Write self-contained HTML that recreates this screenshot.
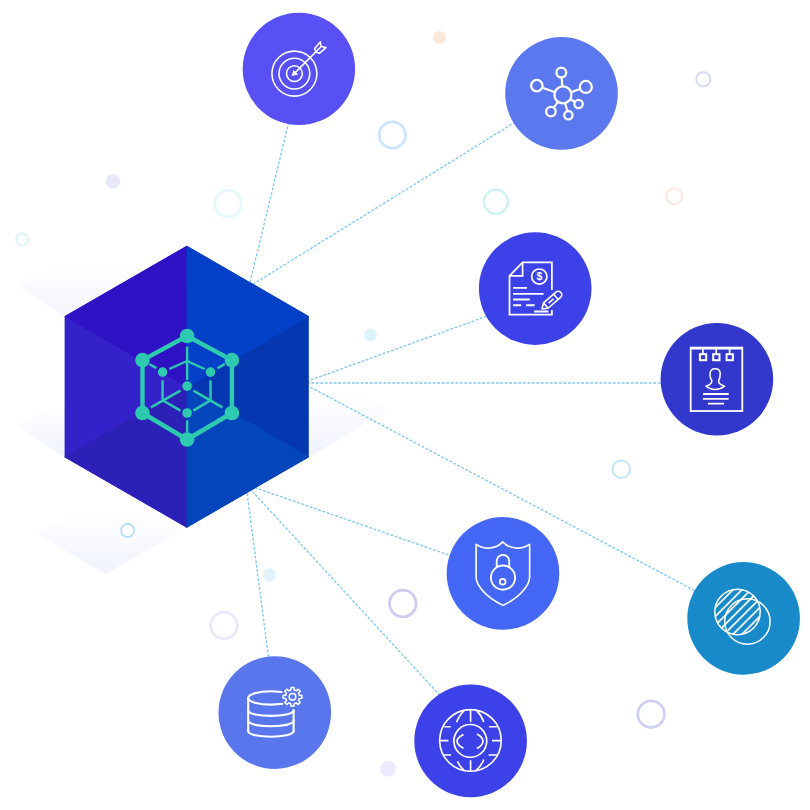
<!DOCTYPE html>
<html lang="en">
<head>
<meta charset="utf-8">
<title>Data hub illustration</title>
<style>
html,body{margin:0;padding:0;background:#fff;}
body{width:810px;height:810px;overflow:hidden;font-family:"Liberation Sans",sans-serif;}
svg{display:block}
</style>
</head>
<body>
<svg width="810" height="810" viewBox="0 0 810 810">
<defs>
  <linearGradient id="shA" gradientUnits="userSpaceOnUse" x1="0" y1="318" x2="0" y2="266">
    <stop offset="0" stop-color="#dfe5fa" stop-opacity=".4"/><stop offset="1" stop-color="#dfe5fa" stop-opacity="0"/>
  </linearGradient>
  <linearGradient id="shB" gradientUnits="userSpaceOnUse" x1="0" y1="459" x2="0" y2="405">
    <stop offset="0" stop-color="#dfe5fa" stop-opacity=".5"/><stop offset="1" stop-color="#dfe5fa" stop-opacity="0"/>
  </linearGradient>
  <linearGradient id="shC" gradientUnits="userSpaceOnUse" x1="0" y1="576" x2="0" y2="515">
    <stop offset="0" stop-color="#dfe5fa" stop-opacity=".5"/><stop offset="1" stop-color="#dfe5fa" stop-opacity="0"/>
  </linearGradient>
  <linearGradient id="shD" gradientUnits="userSpaceOnUse" x1="0" y1="460" x2="0" y2="394">
    <stop offset="0" stop-color="#dfe5fa" stop-opacity=".5"/><stop offset="1" stop-color="#dfe5fa" stop-opacity="0"/>
  </linearGradient>
  <pattern id="hatch" patternUnits="userSpaceOnUse" width="6.3" height="6.3" patternTransform="translate(737.5 611.95) rotate(-45) translate(0 -0.82)">
    <rect x="0" y="0" width="6.3" height="1.65" fill="#fff"/>
  </pattern>
  <clipPath id="clipA"><circle cx="737.5" cy="611.95" r="22.4"/></clipPath>
</defs>

<!-- faint floor shadows -->
<polygon points="18,286 65,316.5 186,246.5 139,216" fill="url(#shA)"/>
<polygon points="17,425.5 65,457.5 186,387.5 138,355.5" fill="url(#shB)"/>
<polygon points="37,534 106,574 308.8,457 240,417" fill="url(#shC)"/>
<polygon points="389,410.6 308.8,457 186,386 266,340" fill="url(#shD)"/>

<!-- decorative dots -->
<g fill="none" stroke-width="2.8">
  <circle cx="228" cy="203.6" r="13.2" stroke="#e5f9fc"/>
  <circle cx="22.1" cy="239.2" r="5.9" stroke="#d9f3f6" stroke-width="1.7"/>
  <circle cx="392.4" cy="135" r="13.2" stroke="#cbe6fb"/>
  <circle cx="703.3" cy="79.3" r="7.1" stroke="#d6d8f8" stroke-width="1.9"/>
  <circle cx="495.9" cy="201.7" r="12" stroke="#d4f3f0"/>
  <circle cx="674.4" cy="196.3" r="7.9" stroke="#fde5db" stroke-width="1.9"/>
  <circle cx="127.6" cy="530.4" r="6.6" stroke="#b4dcf5" stroke-width="1.7"/>
  <circle cx="224" cy="625.4" r="13.3" stroke="#e9e8fb"/>
  <circle cx="402.8" cy="603.5" r="13.3" stroke="#cdccf0"/>
  <circle cx="621.3" cy="469.3" r="8.8" stroke="#c5e5f9" stroke-width="2"/>
  <circle cx="651.1" cy="714.2" r="13.3" stroke="#d0d0f4"/>
</g>
<circle cx="113" cy="181.4" r="7.3" fill="#e7e8f9"/>
<circle cx="370.5" cy="335" r="6.5" fill="#dcf5fa"/>
<circle cx="439.6" cy="37.5" r="6.6" fill="#fce9dc"/>
<circle cx="269.5" cy="575" r="6.7" fill="#e3f1fc"/>
<circle cx="388" cy="768.8" r="8" fill="#eceafc"/>

<!-- dashed connectors -->
<g fill="none" stroke="#7cc6f4" stroke-width="1.3" stroke-dasharray="2.8 1.7">
  <line x1="249" y1="286.7" x2="301.6" y2="68.9"/>
  <line x1="249" y1="286.7" x2="561.5" y2="93.5"/>
  <line x1="302.3" y1="383" x2="535.2" y2="298.7"/>
  <line x1="302.3" y1="383" x2="716.9" y2="383"/>
  <line x1="302.3" y1="383" x2="743.6" y2="616.5"/>
  <line x1="246" y1="484.5" x2="503" y2="573.9"/>
  <line x1="246" y1="484.5" x2="275.7" y2="712.6"/>
  <line x1="246" y1="484.5" x2="460" y2="717.2"/>
</g>

<!-- hexagon cube -->
<g>
  <polygon points="187.2,245.7 64.6,316.2 64.6,457.2 187.2,527.7" fill="#3521c9"/>
  <polygon points="186.7,245.7 308.8,316.2 308.8,457.2 186.7,527.7" fill="#0437b0"/>
  <polygon points="187.2,387.3 186.7,245.7 64.6,316.2 64.6,316.8" fill="#2e12c4"/>
  
  <polygon points="187.2,386.1 64.6,456.6 64.6,457.2 186.7,527.7 187.2,527.7" fill="#2c21b6"/>
  <polygon points="186.7,387.3 186.7,245.7 308.8,316.2 308.8,316.8" fill="#0340c8"/>
  
  <polygon points="186.7,386.1 308.8,456.6 308.8,457.2 186.7,527.7" fill="#0346bb"/>
</g>

<!-- cube icon -->
<g stroke="#2ecab0" fill="none" stroke-linecap="butt">
  <polygon points="187.1,336 231.9,360.1 231.9,413 187.1,439.5 142.5,413 142.5,360.1" stroke-width="4.4" stroke-linejoin="round"/>
  <g stroke-width="2.4">
    <line x1="187.1" y1="346.5" x2="187.1" y2="380"/>
    <line x1="187.1" y1="361" x2="169.3" y2="369"/>
    <line x1="187.1" y1="361" x2="204.6" y2="369"/>
    <line x1="149.3" y1="364.1" x2="156.5" y2="368.1"/>
    <line x1="224.7" y1="364.1" x2="217.5" y2="368.1"/>
    <line x1="162.6" y1="380.2" x2="162.6" y2="400.5"/>
    <line x1="210.5" y1="380.2" x2="210.5" y2="400.5"/>
    <line x1="180.5" y1="390.6" x2="150.9" y2="407.4"/>
    <line x1="193.4" y1="390.6" x2="222.3" y2="407.4"/>
    <line x1="162.6" y1="400.2" x2="180.5" y2="410.6"/>
    <line x1="210.5" y1="400.2" x2="193.4" y2="410.6"/>
    <line x1="187.1" y1="420.3" x2="187.1" y2="432.3"/>
  </g>
</g>
<g fill="#2ecab0">
  <circle cx="187.1" cy="336" r="7.3"/><circle cx="231.9" cy="360.1" r="7.3"/><circle cx="231.9" cy="413" r="7.3"/>
  <circle cx="187.1" cy="439.5" r="7.3"/><circle cx="142.5" cy="413" r="7.3"/><circle cx="142.5" cy="360.1" r="7.3"/>
  <circle cx="187.1" cy="386.1" r="4.8"/><circle cx="162.6" cy="372.1" r="4.8"/><circle cx="210.5" cy="372.1" r="4.8"/><circle cx="187.1" cy="413" r="4.8"/>
</g>

<!-- big circles -->
<circle cx="298.9" cy="68.9" r="56.2" fill="#5850f4"/>
<circle cx="561.5" cy="93.4" r="56.3" fill="#5b78ee"/>
<circle cx="535.2" cy="288.6" r="56.3" fill="#3d42e8"/>
<circle cx="716.9" cy="379.3" r="56.3" fill="#3338cc"/>
<circle cx="503" cy="573.4" r="56.3" fill="#4468f5"/>
<circle cx="743.6" cy="618.4" r="56.3" fill="#188aca"/>
<circle cx="274.8" cy="712.6" r="56.3" fill="#5976ec"/>
<circle cx="470.6" cy="740.9" r="56.3" fill="#3d42e8"/>

<!-- target icon -->
<g fill="none" stroke="#fff" stroke-width="1.55" stroke-linejoin="round">
  <circle cx="294.4" cy="73.6" r="22.5"/>
  <circle cx="294.4" cy="73.6" r="15.4"/>
  <circle cx="294.4" cy="73.6" r="7.9"/>
  <line x1="294.4" y1="73.4" x2="321" y2="46.8"/>
  <path d="M316 52 L314.7 48.6 L320.3 41.9 L321.2 46.6 L325.9 47.6 L319.4 53.3 Z"/>
</g>
<polygon points="291.6,76 293.4,69.9 298.2,74.4" fill="#fff"/>

<!-- network icon -->
<g fill="none" stroke="#fff" stroke-width="2.1">
  <line x1="562.95" y1="94.9" x2="561.3" y2="72.6"/>
  <line x1="562.95" y1="94.9" x2="536.8" y2="85.65"/>
  <line x1="562.95" y1="94.9" x2="585.8" y2="86.95"/>
  <line x1="562.95" y1="94.9" x2="578.55" y2="104"/>
  <line x1="562.95" y1="94.9" x2="568.4" y2="115.2"/>
  <line x1="562.95" y1="94.9" x2="550.9" y2="111.6"/>
</g>
<g fill="#5b78ee" stroke="#fff" stroke-width="2.3">
  <circle cx="562.95" cy="94.9" r="8.5"/>
  <circle cx="561.3" cy="72.6" r="4.9"/>
  <circle cx="536.8" cy="85.65" r="5.7"/>
  <circle cx="585.8" cy="86.95" r="6"/>
  <circle cx="578.55" cy="104" r="4.15"/>
  <circle cx="568.4" cy="115.2" r="4.2"/>
  <circle cx="550.9" cy="111.6" r="4.8"/>
</g>

<!-- document icon -->
<g fill="none" stroke="#fff" stroke-width="1.7" stroke-linejoin="miter">
  <path d="M551.9 290 V262.4 H522.6 L509.5 275.8 V314.7 H551.9 V309.9"/>
  <path d="M522.6 262.4 V275.8 H509.5"/>
  <circle cx="539.3" cy="276.6" r="7.6"/>
  <path stroke-width="1.9" d="M513 287.9 H527 M513 293.9 H543.6 M513 299.5 H529.8 M513 305.3 H521.2 M526.1 305.3 H534.6 M534.1 311.5 H548.4"/>
  <g transform="translate(541.9 309) rotate(-41)" stroke-width="1.6" stroke-linejoin="round">
    <path d="M0 0 L5.2 -3.5 H21.6 A3.5 3.5 0 0 1 21.6 3.5 H5.2 Z" fill="#3d42e8"/>
    <path d="M5.2 -3.5 V3.5 M18.6 -3.5 V3.5 M8.8 0 H15.4"/>
  </g>
</g>
<text x="539.3" y="280.2" font-family="'Liberation Sans',sans-serif" font-weight="700" font-size="10.5" fill="#fff" text-anchor="middle">$</text>

<!-- notepad icon -->
<g fill="none" stroke="#fff" stroke-width="1.8">
  <rect x="690.7" y="347.6" width="51.6" height="63.4"/>
  <line x1="690.7" y1="348.4" x2="742.3" y2="348.4" stroke-width="2.4"/>
  <g stroke-width="2">
  <rect x="699.9" y="354.2" width="6.3" height="6"/><line x1="702.9" y1="349" x2="702.9" y2="354.2" stroke-width="1.7"/>
  <rect x="713.2" y="354.2" width="6.3" height="6"/><line x1="716.2" y1="349" x2="716.2" y2="354.2" stroke-width="1.7"/>
  <rect x="726.6" y="354.2" width="6.3" height="6"/><line x1="729.6" y1="349" x2="729.6" y2="354.2" stroke-width="1.7"/>
  </g>
  <path stroke-width="1.55" stroke-linejoin="round" d="M706 386.2 C709.8 385 712 383.6 711.8 380.6 C710.4 378.8 709.8 376.4 710 373.6 C710.2 370.6 712.2 368.7 715.2 368.7 C718.4 368.7 720.2 370.8 720.2 373.8 C720.2 376.6 719.8 378.8 718.6 380.6 C718.4 383.6 720.6 385 724.6 386.2 C721.6 388.6 718.4 389.5 715.2 389.5 C712 389.5 708.8 388.6 706 386.2 Z"/>
  <path stroke-width="1.9" d="M703 394 H728.7 M703 398.9 H728.7 M707.9 403.6 H724.1"/>
</g>

<!-- shield icon -->
<g fill="none" stroke="#fff" stroke-width="1.6" stroke-linejoin="round">
  <path d="M476.1 544.3 C484 549.6 495.4 549.8 502.7 541.9 C510 549.8 521.6 549.6 529.6 544.3 V577.5 C529.4 583 523.6 595.6 503 605.4 C482.4 595.6 476.3 583 476.1 577.5 Z"/>
  <g stroke-width="1.85">
  <circle cx="503" cy="577.6" r="12.1"/>
  <path d="M496.7 567.2 V561.1 A6.25 6.25 0 0 1 509.2 561.1 V567.2"/>
  <circle cx="502.7" cy="581.8" r="2.9" stroke-width="1.7"/>
  </g>
</g>

<!-- venn icon -->
<rect x="712" y="586" width="52" height="52" fill="url(#hatch)" clip-path="url(#clipA)"/>
<g fill="none" stroke="#fff" stroke-width="1.5">
  <circle cx="737.5" cy="611.95" r="22.7"/>
  <circle cx="747.4" cy="621.5" r="22.7"/>
</g>

<!-- database icon -->
<g fill="none" stroke="#fff" stroke-width="2.1" stroke-linecap="round" stroke-linejoin="round">
  <path d="M281.5 692 C277 691.4 274 691.2 270.9 691.2 C258.4 691.2 248.2 694.2 248.2 697.9 C248.2 701.6 258.4 704.6 270.9 704.6 C274.5 704.6 279 704.4 282.4 703.8"/>
  <path d="M248.2 697.9 V731 M293.6 710.2 V731"/>
  <path d="M248.2 710.2 C248.2 717.8 293.6 717.8 293.6 710.2"/>
  <path d="M248.2 720.6 C248.2 728.2 293.6 728.2 293.6 720.6"/>
  <path d="M248.2 731 C248.2 738.6 293.6 738.6 293.6 731"/>
</g>
<g fill="none" stroke="#fff" stroke-width="1.55" stroke-linejoin="round">
  <circle cx="292.5" cy="696.85" r="3.3"/>
  <path d="M290.77 690.07 L291.08 687.46 L293.92 687.46 L294.23 690.07 L296.07 690.83 L298.14 689.20 L300.15 691.21 L298.52 693.28 L299.28 695.12 L301.89 695.43 L301.89 698.27 L299.28 698.58 L298.52 700.42 L300.15 702.49 L298.14 704.50 L296.07 702.87 L294.23 703.63 L293.92 706.24 L291.08 706.24 L290.77 703.63 L288.93 702.87 L286.86 704.50 L284.85 702.49 L286.48 700.42 L285.72 698.58 L283.11 698.27 L283.11 695.43 L285.72 695.12 L286.48 693.28 L284.85 691.21 L286.86 689.20 L288.93 690.83 Z"/>
</g>

<!-- globe icon -->
<g fill="none" stroke="#fff" stroke-width="1.6" stroke-linecap="butt">
  <circle cx="470.45" cy="740.45" r="30.8"/>
  <circle cx="470.3" cy="740.9" r="16.4" stroke-width="1.7"/>
  <path d="M470.6 710 V721.9 M470.6 760.3 V771"/>
  <path d="M444.4 726.8 H450.6 M489 726.8 H496.8 M440 740.6 H448.4 M492 740.6 H500.9 M444.2 755 H451 M488.6 755 H497"/>
  <path d="M464.2 710.6 Q459 715.4 456.6 722.3 M476.6 710.6 Q481.6 715.4 483.8 721.9 M464.2 770.4 Q459.6 766.6 457.5 761.2 M476 770.4 Q481.4 766 483.8 759.5"/>
  <path stroke-width="1.7" d="M463.5 734.4 Q457 737.6 457 741.3 Q457 745 463.5 748.2 M476.9 734 Q483 737.4 483 741.3 Q483 745.2 476.9 748.6"/>
</g>
</svg>
</body>
</html>
